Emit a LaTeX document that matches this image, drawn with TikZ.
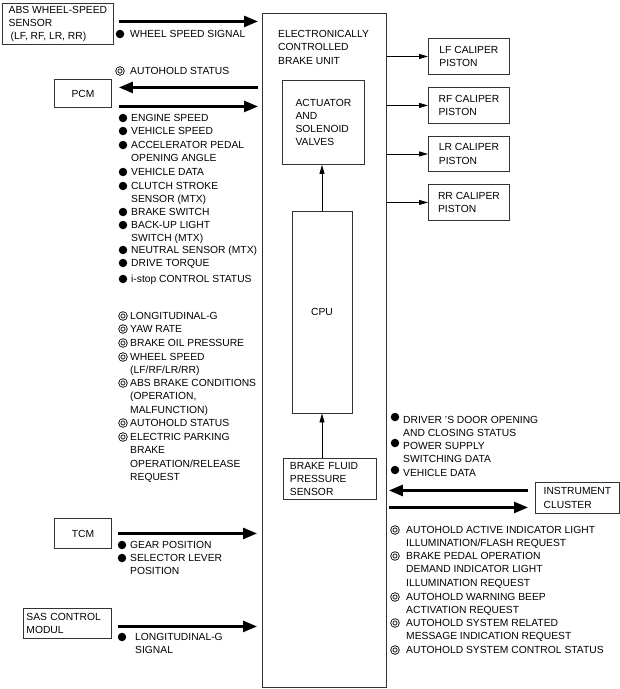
\documentclass[tikz,border=0pt]{standalone}
\usepackage{fontspec}
\setmainfont{Liberation Sans}
\usetikzlibrary{arrows.meta}
\newcommand{\lbl}{\fontsize{10.3}{13.2}\selectfont}

\begin{document}
\begin{tikzpicture}[
  x=1pt, y=-1pt,
  box/.style={draw=black!80,line width=0.9pt,inner sep=0pt,font=\lbl},
  sig/.style={anchor=north west,yshift=3.7pt,align=left,inner sep=0pt,font=\lbl},
  dot/.style={circle,fill,inner sep=0pt,minimum size=8.5pt},
  ring/.style={circle,draw,double,double distance=1.1pt,line width=0.85pt,inner sep=0pt,minimum size=6.4pt},
  bigarr/.style={line width=2.6pt,-{Triangle[length=14pt,width=11pt]}},
  thinarr/.style={line width=0.8pt,-{Triangle[length=9pt,width=5pt]}}
]
\useasboundingbox (0,0) rectangle (620,689);

% brake unit
\node[box,anchor=north west,minimum width=124pt,minimum height=674pt] (ecbu) at (262,13) {};
\node[sig] (ecbutxt) at (278,34) {ELECTRONICALLY\\CONTROLLED\\BRAKE UNIT};
\node[box,anchor=north west,minimum width=82pt,minimum height=84pt,align=left] (act) at (282,80) {ACTUATOR\\AND\\SOLENOID\\VALVES};
\node[box,minimum width=60pt,minimum height=202pt] (cpu) at (322,312) {CPU};
\node[box,anchor=north west,minimum width=93pt,minimum height=41pt,text width=80pt,inner xsep=6.5pt,align=left] (bfps) at (283,458) {BRAKE FLUID\\PRESSURE\\SENSOR};
\draw[thinarr] (cpu.north) -- (act.south -| cpu.north);
\draw[thinarr] (bfps.north -| cpu.south) -- (cpu.south);

% caliper pistons
\node[box,anchor=north west,minimum width=81pt,minimum height=36pt,align=left] (lf) at (428,38) {LF CALIPER\\PISTON};
\node[box,anchor=north west,minimum width=81pt,minimum height=36pt,align=left] (rf) at (428,87) {RF CALIPER\\PISTON};
\node[box,anchor=north west,minimum width=81pt,minimum height=35pt,align=left] (lr) at (428,136) {LR CALIPER\\PISTON};
\node[box,anchor=north west,minimum width=81pt,minimum height=36pt,align=left] (rr) at (428,184) {RR CALIPER\\PISTON};
\foreach \c in {lf,rf,lr,rr}
  \draw[thinarr] (ecbu.east |- \c.west) -- (\c.west);

% ABS wheel-speed sensor
\node[box,anchor=north west,minimum width=111pt,minimum height=41pt,align=left] (abs) at (2,3) {ABS WHEEL-SPEED\\SENSOR\\\hspace*{2pt}(LF, RF, LR, RR)};
\draw[bigarr] ([xshift=5pt,yshift=2.5pt]abs.east) -- ([xshift=-4pt,yshift=2.5pt]abs.east -| ecbu.west);
\node[dot] (absdot) at (120,34) {};
\node[sig] (abssig) at (130,34) {WHEEL SPEED SIGNAL};

% PCM
\node[box,anchor=north west,minimum width=57pt,minimum height=28pt] (pcm) at (54,79) {PCM};
\draw[bigarr] ([xshift=-4pt,yshift=6pt]pcm.east -| ecbu.west) -- ([xshift=7pt,yshift=6pt]pcm.east);
\draw[bigarr] ([xshift=7pt,yshift=-13pt]pcm.east) -- ([xshift=-4pt,yshift=-13pt]pcm.east -| ecbu.west);
\node[ring] (pcmring) at (120,71) {};
\node[sig] (pcmout) at (130,71) {AUTOHOLD STATUS};
\foreach \y/\t [count=\i] in {118/ENGINE SPEED, 131/VEHICLE SPEED,
    145/{ACCELERATOR PEDAL\\OPENING ANGLE}, 172/VEHICLE DATA,
    186/{CLUTCH STROKE\\SENSOR (MTX)}, 212/BRAKE SWITCH,
    225/{BACK-UP LIGHT\\SWITCH (MTX)}, 250/NEUTRAL SENSOR (MTX),
    263/DRIVE TORQUE, 279/i-stop CONTROL STATUS}
  {\node[dot] (pcmdot\i) at (123,\y) {};
   \node[sig] (pcmsig\i) at (131,\y) {\t};}

% signals sent out
\foreach \y/\t [count=\i] in {316/LONGITUDINAL-G, 329/YAW RATE,
    343/BRAKE OIL PRESSURE, 357/{WHEEL SPEED\\(LF/RF/LR/RR)},
    383/{ABS BRAKE CONDITIONS\\(OPERATION,\\MALFUNCTION)},
    423/AUTOHOLD STATUS,
    437/{ELECTRIC PARKING\\BRAKE\\OPERATION/RELEASE\\REQUEST}}
  {\node[ring] (outring\i) at (123,\y) {};
   \node[sig] (outsig\i) at (130,\y) {\t};}

% TCM
\node[box,anchor=north west,minimum width=57pt,minimum height=30pt] (tcm) at (54,518) {TCM};
\draw[bigarr] ([xshift=6pt]tcm.east) -- ([xshift=-5pt]tcm.east -| ecbu.west);
\node[dot] (tcmdot1) at (122,545) {};
\node[sig] (tcmsig1) at (130,545) {GEAR POSITION};
\node[dot] (tcmdot2) at (122,558) {};
\node[sig] (tcmsig2) at (130,558) {SELECTOR LEVER\\POSITION};

% SAS control module
\node[box,anchor=north west,minimum width=88pt,minimum height=30pt,text width=82pt,inner xsep=3pt,align=left] (sas) at (23,608) {SAS CONTROL\\MODUL};
\draw[bigarr] ([xshift=6pt,yshift=-3pt]sas.east) -- ([xshift=-5pt,yshift=-3pt]sas.east -| ecbu.west);
\node[dot] (sasdot) at (122,637) {};
\node[sig] (sassig) at (135,637) {LONGITUDINAL-G\\SIGNAL};

% instrument cluster
\node[box,anchor=north west,minimum width=84pt,minimum height=31pt,align=left] (ic) at (535,482) {INSTRUMENT\\CLUSTER};
\draw[bigarr] ([xshift=-7pt,yshift=7.5pt]ic.west) -- ([xshift=2pt,yshift=7.5pt]ic.west -| ecbu.east);
\draw[bigarr] ([xshift=2pt,yshift=-9.5pt]ic.west -| ecbu.east) -- ([xshift=-7pt,yshift=-9.5pt]ic.west);
\foreach \y/\t [count=\i] in {420/{DRIVER 'S DOOR OPENING\\AND CLOSING STATUS},
    446/{POWER SUPPLY\\SWITCHING DATA}, 473/VEHICLE DATA}
  {\node[dot] (icdot\i) at (395,\y-3) {};
   \node[sig] (icsig\i) at (403,\y) {\t};}
\foreach \y/\t [count=\i] in {530/{AUTOHOLD ACTIVE INDICATOR LIGHT\\ILLUMINATION/FLASH REQUEST},
    556/{BRAKE PEDAL OPERATION\\DEMAND INDICATOR LIGHT\\ILLUMINATION REQUEST},
    597/{AUTOHOLD WARNING BEEP\\ACTIVATION REQUEST},
    623/{AUTOHOLD SYSTEM RELATED\\MESSAGE INDICATION REQUEST},
    650/AUTOHOLD SYSTEM CONTROL STATUS}
  {\node[ring] (icring\i) at (395,\y) {};
   \node[sig] (icreq\i) at (406,\y) {\t};}

\end{tikzpicture}
\end{document}
